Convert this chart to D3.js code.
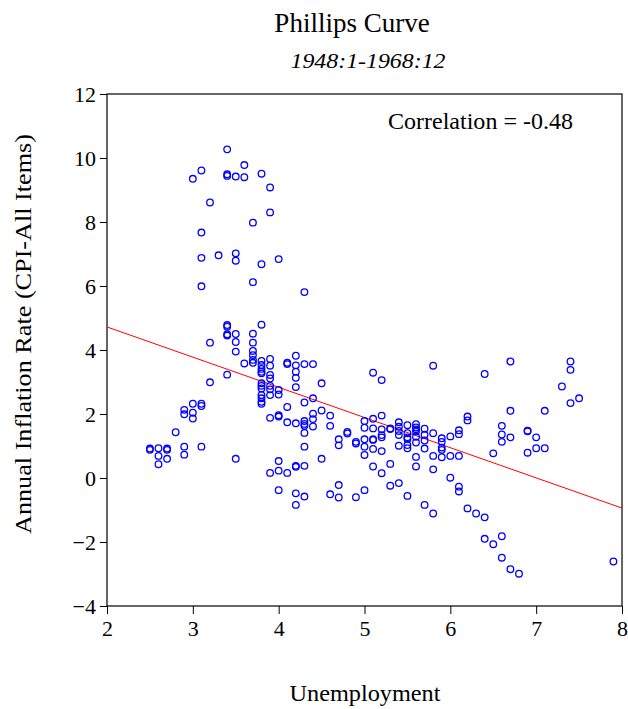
<!DOCTYPE html>
<html>
<head>
<meta charset="utf-8">
<script src="https://cdn.jsdelivr.net/npm/d3@7"></script>
<style>
  body { margin: 0; background: #fff; }
  svg text { font-family: "Liberation Serif", "Times New Roman", serif !important; fill: #000; }
</style>
</head>
<body>
<svg id="chart"></svg>
<script>
// unemployment (%) and annual CPI inflation (%), monthly 1948:1-1968:12
const unemployment = [
  3.4, 3.6, 3.1, 3.0, 3.4, 3.4, 3.5, 3.6, 3.8, 3.9, 3.2, 3.9, 3.7, 3.1, 3.1, 3.3, 3.5, 3.5, 3.8, 4.0,
  3.1, 3.7, 4.3, 3.4, 3.4, 3.8, 3.4, 3.4, 3.5, 3.7, 3.2, 3.5, 3.7, 3.5, 3.7, 3.7, 3.7, 3.7, 3.6, 3.8,
  3.8, 3.8, 3.8, 3.8, 3.9, 3.9, 3.9, 3.9, 4.1, 4.1, 4.2, 4.2, 4.3, 4.4, 4.2, 4.2, 4.2, 5.1, 5.2, 3.2,
  3.4, 3.8, 3.8, 3.8, 3.8, 3.8, 3.8, 3.8, 3.9, 3.9, 3.9, 4.0, 4.0, 4.5, 4.4, 4.3, 4.1, 4.5, 4.4, 4.4,
  4.4, 4.3, 4.3, 4.3, 4.3, 4.2, 4.1, 4.0, 4.0, 3.9, 4.6, 4.6, 4.8, 4.8, 4.7, 4.7, 4.9, 4.9, 5.0, 5.0,
  5.0, 5.0, 5.0, 5.1, 5.1, 5.1, 5.1, 5.1, 5.1, 4.3, 4.5, 2.9, 2.9, 3.0, 3.0, 3.0, 3.1, 3.1, 2.9, 2.9,
  3.1, 3.5, 4.0, 4.0, 4.1, 3.9, 4.2, 4.3, 4.2, 4.0, 4.2, 4.3, 4.6, 4.7, 4.9, 5.0, 2.8, 2.5, 2.5, 2.6,
  2.7, 2.7, 2.6, 2.7, 2.6, 4.2, 5.8, 6.4, 6.7, 6.7, 5.2, 5.2, 5.2, 5.2, 5.2, 5.3, 5.3, 5.4, 5.4, 5.4,
  5.4, 5.4, 5.5, 5.5, 5.5, 5.5, 5.5, 5.5, 5.6, 5.6, 5.6, 5.6, 5.6, 5.6, 5.6, 5.6, 5.7, 5.7, 5.7, 5.7,
  5.8, 5.8, 5.8, 5.9, 5.9, 5.9, 5.9, 5.9, 6.0, 6.0, 6.0, 6.1, 6.1, 6.1, 6.1, 6.1, 6.2, 6.2, 6.5, 6.6,
  6.6, 6.6, 6.7, 5.3, 5.2, 5.3, 5.4, 5.5, 5.7, 5.8, 4.7, 6.2, 6.3, 6.4, 7.4, 7.4, 7.3, 7.4, 7.5, 7.1,
  6.9, 6.9, 7.0, 7.0, 7.1, 6.9, 6.4, 6.5, 6.6, 6.6, 6.7, 6.8, 7.9
];
const inflation = [
  10.27, 9.78, 9.61, 9.35, 9.49, 9.44, 9.42, 9.40, 9.51, 9.08, 8.61, 8.30, 7.98, 7.67, 6.88, 6.96, 7.02, 6.79, 6.68, 6.84,
  5.99, 6.12, 5.81, 4.78, 4.73, 4.79, 4.49, 4.45, 4.50, 4.51, 4.23, 4.25, 4.23, 3.95, 3.97, 3.84, 3.69, 3.60, 3.58, 3.66,
  3.53, 3.41, 3.32, 3.27, 3.72, 3.51, 3.22, 3.11, 3.60, 3.56, 3.82, 3.52, 3.56, 3.56, 3.32, 3.13, 2.84, 3.29, 3.06, 2.99,
  3.23, 2.96, 2.88, 2.80, 2.59, 2.49, 2.38, 2.32, 2.88, 2.77, 2.59, 2.75, 2.61, 2.96, 2.49, 2.36, 2.22, 2.11, 2.01, 1.84,
  1.61, 1.78, 1.69, 1.63, 1.41, 1.71, 1.74, 1.96, 1.92, 1.88, 1.95, 1.63, 1.44, 1.39, 1.21, 1.02, 1.13, 1.08, 1.78, 1.57,
  1.21, 0.98, 0.72, 1.85, 1.55, 1.21, 1.19, 0.91, 0.36, 0.98, 0.60, 2.13, 1.99, 2.32, 2.04, 1.86, 2.32, 2.25, 0.98, 0.73,
  0.98, 0.60, 0.53, 0.23, 0.16, 0.16, 0.38, 0.38, 0.35, -0.38, -0.48, -0.58, -0.51, -0.22, -0.60, -0.38, 1.43, 0.92, 0.88, 0.93,
  0.92, 0.88, 0.69, 0.60, 0.43, -0.84, 3.51, 3.25, 3.64, 2.10, 1.95, 1.52, 1.34, 1.27, 0.84, 1.55, 1.53, 1.74, 1.60, 1.47,
  1.34, 1.01, 1.65, 1.40, 1.27, 1.22, 1.03, 0.93, 1.68, 1.58, 1.52, 1.45, 1.29, 1.11, 0.66, 0.36, 1.54, 1.35, 1.17, 0.92,
  1.40, 0.69, 0.27, 1.24, 1.13, 0.95, 0.88, 0.65, 1.30, 0.69, 0.01, 1.49, 1.37, 0.69, -0.27, -0.42, 1.92, 1.80, 0.77, 1.63,
  1.36, 1.13, 1.27, 0.44, 0.15, -0.24, -0.16, -0.56, -0.84, -1.11, -0.61, -0.95, -1.11, -1.23, 3.64, 3.38, 2.86, 2.34, 2.49, 2.10,
  1.48, 1.46, 1.27, 0.93, 0.93, 0.79, -1.90, -2.07, -1.82, -2.49, -2.85, -2.99, -2.61
];
// regression line, read at the two edges of the plot
const fitX = [2, 8];
const fitY = [4.72, -0.94];

const xTicks = [2, 3, 4, 5, 6, 7, 8];
const yTicks = [-4, -2, 0, 2, 4, 6, 8, 10, 12];

const W = 628, H = 709;
const margin = { top: 94, right: 6, bottom: 103, left: 107 };
const pw = W - margin.left - margin.right;
const ph = H - margin.top - margin.bottom;
const serif = '"Liberation Serif", "Times New Roman", serif';

const svg = d3.select("#chart").attr("width", W).attr("height", H);

const x = d3.scaleLinear().domain([2, 8]).range([margin.left, margin.left + pw]);
const y = d3.scaleLinear().domain([-4, 12]).range([margin.top + ph, margin.top]);

svg.append("defs").append("clipPath").attr("id", "plot")
  .append("rect")
  .attr("x", margin.left).attr("y", margin.top)
  .attr("width", pw).attr("height", ph);

// axes
const yAxis = svg.append("g")
  .attr("transform", `translate(${margin.left},0)`)
  .call(d3.axisLeft(y).tickValues(yTicks).tickFormat(d3.format("d")).tickSize(7).tickPadding(4));
const xAxis = svg.append("g")
  .attr("transform", `translate(0,${margin.top + ph})`)
  .call(d3.axisBottom(x).tickValues(xTicks).tickFormat(d3.format("d")).tickSize(8).tickPadding(6));

[xAxis, yAxis].forEach((g) => {
  g.attr("font-family", null).attr("font-size", null);
  g.select(".domain").remove();
  g.selectAll("line").attr("stroke", "#000");
  g.selectAll("text")
    .attr("fill", "#000")
    .style("font-family", serif)
    .style("font-size", "22px");
});

// frame
svg.append("rect")
  .attr("x", margin.left).attr("y", margin.top)
  .attr("width", pw).attr("height", ph)
  .attr("fill", "none").attr("stroke", "#000").attr("stroke-width", 1.2);

// fitted line
svg.append("line")
  .attr("clip-path", "url(#plot)")
  .attr("x1", x(fitX[0])).attr("y1", y(fitY[0]))
  .attr("x2", x(fitX[1])).attr("y2", y(fitY[1]))
  .attr("stroke", "#ff0000").attr("stroke-width", 1);

// points
svg.append("g")
  .selectAll("circle")
  .data(d3.zip(unemployment, inflation))
  .join("circle")
  .attr("cx", (d) => x(d[0]))
  .attr("cy", (d) => y(d[1]))
  .attr("r", 3.3)
  .attr("fill", "none")
  .attr("stroke", "#0000ff")
  .attr("stroke-width", 1.3);

// texts
svg.append("text")
  .attr("x", 352).attr("y", 32)
  .attr("text-anchor", "middle")
  .style("font-size", "27px")
  .text("Phillips Curve");

svg.append("text")
  .attr("x", 368).attr("y", 68)
  .attr("text-anchor", "middle")
  .style("font-size", "22px")
  .style("font-style", "italic")
  .attr("textLength", 155)
  .attr("lengthAdjust", "spacingAndGlyphs")
  .text("1948:1-1968:12");

svg.append("text")
  .attr("x", 388).attr("y", 129)
  .style("font-size", "23px")
  .attr("textLength", 185)
  .attr("lengthAdjust", "spacingAndGlyphs")
  .text("Correlation = -0.48");

svg.append("text")
  .attr("x", 365).attr("y", 701)
  .attr("text-anchor", "middle")
  .style("font-size", "23px")
  .attr("textLength", 151)
  .attr("lengthAdjust", "spacingAndGlyphs")
  .text("Unemployment");

svg.append("text")
  .attr("transform", "translate(31,334) rotate(-90)")
  .attr("text-anchor", "middle")
  .style("font-size", "23px")
  .attr("textLength", 400)
  .attr("lengthAdjust", "spacingAndGlyphs")
  .text("Annual Inflation Rate (CPI-All Items)");
</script>
</body>
</html>
